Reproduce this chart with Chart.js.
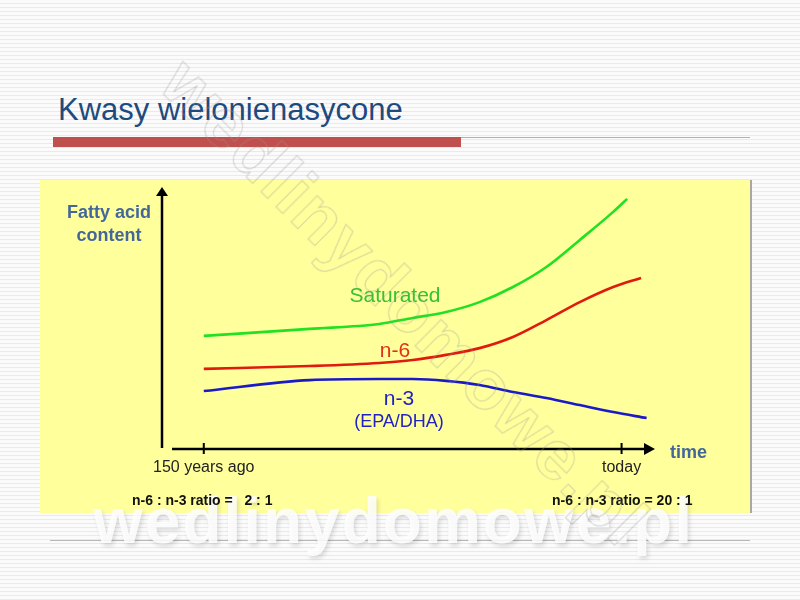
<!DOCTYPE html>
<html>
<head>
<meta charset="utf-8">
<script src="https://cdn.jsdelivr.net/npm/chart.js@4.4.0/dist/chart.umd.min.js"></script>
<style>
    html, body { margin: 0; padding: 0; }
    body {
        width: 800px; height: 600px; position: relative; overflow: hidden;
        font-family: Arial, "Liberation Sans", sans-serif;
        background: repeating-linear-gradient(to bottom, #fbfbfb 0px, #fbfbfb 3px, #eaeaea 3px, #eaeaea 4px);
    }
    .tytul { position: absolute; left: 58px; top: 94px; font-size: 31px; line-height: 31px; color: #1f4a7e; white-space: nowrap; }
    .pasek { position: absolute; left: 53px; top: 137px; width: 408px; height: 10px; background: #c0504d; }
    .linia { position: absolute; left: 461px; top: 137px; width: 289px; height: 1px; background: #d9a09e; }
    .panel { position: absolute; left: 40px; top: 180px; width: 710px; height: 333px; background: #ffff9c; border-right: 2px solid #a8a8a0; }
    .linia-dol { position: absolute; left: 50px; top: 540px; width: 700px; height: 1px; background: #b8b8b8; }
    canvas { position: absolute; left: 0; top: 0; }
    .znak-dol {
        position: absolute; left: 93px; top: 484px; font-size: 64px; font-weight: bold; letter-spacing: 2px;
        color: rgba(255, 255, 255, 0.85); text-shadow: 2px 3px 4px rgba(0, 0, 0, 0.13); white-space: nowrap;
    }
    .znak-skos {
        position: absolute; left: 78px; top: 262px; font-size: 70px; font-weight: bold; letter-spacing: 2px;
        color: transparent; -webkit-text-stroke: 1px rgba(150, 150, 150, 0.4); white-space: nowrap;
        transform: rotate(45deg); transform-origin: 50% 50%;
    }
</style>
</head>
<body>
<div class="tytul">Kwasy wielonienasycone</div>
<div class="pasek"></div>
<div class="linia"></div>
<div class="panel"></div>
<div class="linia-dol"></div>
<div class="znak-dol">wedlinydomowe.pl</div>
<canvas id="wykres" width="800" height="600"></canvas>
<div class="znak-skos">wedlinydomowe.pl</div>
<script>
// lata wzgledem dzisiaj (0 = today), wartosci w umownych jednostkach
const lataNasycone = [-150, -112, -87, -75, -63, -51, -39, -27, -15, -3, 2];
const nasycone = [43.5, 46.2, 48.1, 50.4, 52.7, 56.5, 62.3, 70.0, 80.4, 91.2, 96.2];
const lataN6 = [-150, -112, -87, -75, -63, -51, -39, -27, -15, -3, 7];
const kwasyN6 = [30.8, 31.9, 33.1, 34.2, 36.2, 38.8, 43.1, 49.6, 56.5, 62.3, 65.8];
const lataN3 = [-150, -112, -87, -75, -63, -51, -39, -27, -15, -3, 9];
const kwasyN3 = [22.3, 26.5, 26.9, 26.9, 26.2, 24.6, 21.9, 19.6, 16.9, 14.2, 11.9];
const znaczniki = [-150, 0];
const etykietyZnacznikow = ['150 years ago', 'today'];

const punkty = (xs, ys) => xs.map((x, i) => ({ x, y: ys[i] }));

const osie = {
    id: 'osie',
    beforeDatasetsDraw(chart) {
        const { ctx, chartArea, scales } = chart;
        const lewa = chartArea.left;
        const dol = chartArea.bottom;
        ctx.save();
        ctx.strokeStyle = '#000';
        ctx.fillStyle = '#000';
        ctx.lineWidth = 2.5;

        // os pionowa
        ctx.beginPath();
        ctx.moveTo(lewa, dol - 1);
        ctx.lineTo(lewa, chartArea.top + 4);
        ctx.stroke();
        ctx.beginPath();
        ctx.moveTo(lewa, chartArea.top - 2);
        ctx.lineTo(lewa - 6, chartArea.top + 7);
        ctx.lineTo(lewa + 6, chartArea.top + 7);
        ctx.closePath();
        ctx.fill();

        // os pozioma
        ctx.beginPath();
        ctx.moveTo(lewa + 10, dol);
        ctx.lineTo(chartArea.right - 8, dol);
        ctx.stroke();
        ctx.beginPath();
        ctx.moveTo(chartArea.right, dol);
        ctx.lineTo(chartArea.right - 11, dol - 6);
        ctx.lineTo(chartArea.right - 11, dol + 6);
        ctx.closePath();
        ctx.fill();

        ctx.lineWidth = 2;
        ctx.font = '16px Arial, "Liberation Sans", sans-serif';
        ctx.fillStyle = '#222';
        ctx.textAlign = 'center';
        znaczniki.forEach((z, i) => {
            const px = scales.x.getPixelForValue(z);
            ctx.beginPath();
            ctx.moveTo(px, dol - 6);
            ctx.lineTo(px, dol + 5);
            ctx.stroke();
            ctx.fillText(etykietyZnacznikow[i], px, dol + 23);
        });
        ctx.restore();
    },
    afterDatasetsDraw(chart) {
        const { ctx } = chart;
        ctx.save();
        ctx.textAlign = 'center';
        ctx.textBaseline = 'alphabetic';

        ctx.fillStyle = '#44679a';
        ctx.font = 'bold 18px Arial, "Liberation Sans", sans-serif';
        ctx.fillText('Fatty acid', 109, 218);
        ctx.fillText('content', 109, 241);
        ctx.textAlign = 'left';
        ctx.fillText('time', 670, 458);

        ctx.textAlign = 'center';
        ctx.font = '21px Arial, "Liberation Sans", sans-serif';
        ctx.fillStyle = '#35c035';
        ctx.fillText('Saturated', 395, 302);
        ctx.fillStyle = '#e0301c';
        ctx.fillText('n-6', 395, 357);
        ctx.fillStyle = '#2222c4';
        ctx.fillText('n-3', 399, 405);
        ctx.font = '18px Arial, "Liberation Sans", sans-serif';
        ctx.fillText('(EPA/DHA)', 399, 427);

        ctx.fillStyle = '#111';
        ctx.font = 'bold 14px Arial, "Liberation Sans", sans-serif';
        ctx.textAlign = 'left';
        ctx.fillText('n-6 : n-3 ratio =   2 : 1', 132, 505);
        ctx.fillText('n-6 : n-3 ratio = 20 : 1', 552, 505);
        ctx.restore();
    }
};

new Chart(document.getElementById('wykres'), {
    type: 'line',
    data: {
        datasets: [
            { label: 'Saturated', data: punkty(lataNasycone, nasycone), borderColor: '#22e022' },
            { label: 'n-6', data: punkty(lataN6, kwasyN6), borderColor: '#e01a10' },
            { label: 'n-3', data: punkty(lataN3, kwasyN3), borderColor: '#1a1ac8' }
        ]
    },
    options: {
        responsive: false,
        animation: false,
        layout: { padding: { left: 162, right: 145, top: 189, bottom: 151 } },
        elements: {
            line: { borderWidth: 2.6, tension: 0.4, cubicInterpolationMode: 'monotone' },
            point: { radius: 0 }
        },
        scales: {
            x: { type: 'linear', min: -165, max: 12, display: false },
            y: { min: 0, max: 100, display: false }
        },
        plugins: { legend: { display: false }, tooltip: { enabled: false } }
    },
    plugins: [osie]
});
</script>
</body>
</html>
